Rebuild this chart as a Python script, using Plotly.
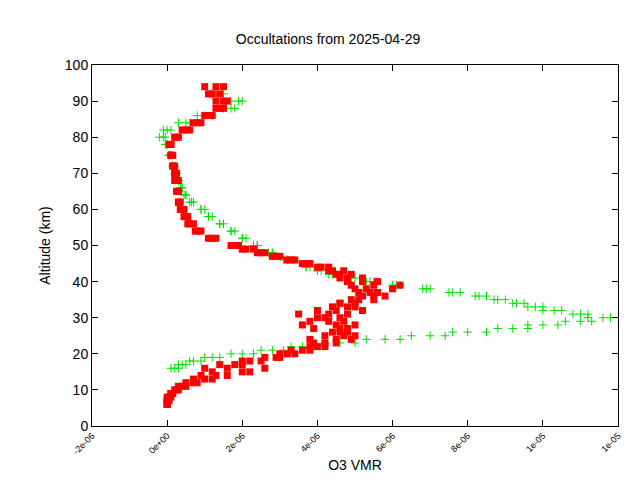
import plotly.graph_objects as go

# Green profiles (altitude km, O3 VMR)
g_alt = [16,17,18,19,20,21,22,23,24,25,26,27,28,29,30,31,32,33,34,35,36,37,38,39,40,41,42,43,44,46,48,50,52,54,56,58,60,62,64,66,68,70,72,75,78,80,82,84,86,88,90,92]
g_v1 = [0.2e-6,0.4e-6,0.7e-6,1.2e-6,2.0e-6,2.8e-6,3.6e-6,4.6e-6,5.8e-6,7.0e-6,8.0e-6,9.2e-6,1.0e-5,1.1e-5,1.18e-5,1.12e-5,1.05e-5,1.0e-5,9.5e-6,9.0e-6,8.5e-6,7.8e-6,7.0e-6,6.2e-6,5.5e-6,5.0e-6,4.5e-6,4.1e-6,3.8e-6,3.2e-6,2.8e-6,2.4e-6,2.1e-6,1.8e-6,1.5e-6,1.2e-6,1.0e-6,0.7e-6,0.5e-6,0.4e-6,0.3e-6,0.25e-6,0.2e-6,0.1e-6,0.0,-0.1e-6,-0.1e-6,0.3e-6,0.8e-6,1.5e-6,2.0e-6,1.5e-6]
g_v2 = [0.1e-6,0.3e-6,0.6e-6,1.0e-6,1.7e-6,2.5e-6,3.3e-6,4.2e-6,5.3e-6,6.5e-6,7.6e-6,8.8e-6,9.6e-6,1.06e-5,1.12e-5,1.08e-5,1.0e-5,9.6e-6,9.2e-6,8.7e-6,8.2e-6,7.5e-6,6.8e-6,6.0e-6,5.3e-6,4.8e-6,4.3e-6,4.0e-6,3.7e-6,3.1e-6,2.7e-6,2.3e-6,2.0e-6,1.7e-6,1.4e-6,1.1e-6,0.9e-6,0.6e-6,0.45e-6,0.35e-6,0.3e-6,0.25e-6,0.15e-6,0.05e-6,-0.05e-6,-0.2e-6,0.0,0.5e-6,1.0e-6,1.7e-6,1.9e-6,1.3e-6]
g_v3 = [0.3e-6,0.5e-6,0.9e-6,1.4e-6,2.3e-6,3.1e-6,3.9e-6,5.0e-6,6.2e-6,7.4e-6,8.5e-6,9.6e-6,1.04e-5,1.13e-5,1.16e-5,1.1e-5,1.03e-5,9.8e-6,9.3e-6,8.8e-6,8.3e-6,7.6e-6,6.9e-6,6.1e-6,5.4e-6,4.9e-6,4.4e-6,4.0e-6,3.7e-6,3.2e-6,2.8e-6,2.4e-6,2.0e-6,1.7e-6,1.4e-6,1.1e-6,0.9e-6,0.65e-6,0.5e-6,0.4e-6,0.3e-6,0.2e-6,0.15e-6,0.05e-6,0.0,-0.05e-6,0.1e-6,0.6e-6,1.2e-6,1.8e-6,1.7e-6,1.2e-6]

# Red profiles
r_alt = [6,7,8,9,10,11,12,13,14,15,16,17,18,19,20,21,22,23,24,25,26,27,28,29,30,31,32,33,34,35,36,37,38,39,40,41,42,43,44,45,46,47,48,49,50,52,54,56,58,60,62,65,68,70,72,75,78,80,82,84,86,88,90,92,94]
r_v1 = [0.0,0.0,0.05e-6,0.1e-6,0.2e-6,0.3e-6,0.5e-6,0.7e-6,0.9e-6,1.2e-6,1.6e-6,2.0e-6,2.5e-6,2.9e-6,3.2e-6,3.6e-6,4.0e-6,4.2e-6,4.5e-6,4.7e-6,4.8e-6,4.6e-6,4.5e-6,4.3e-6,4.2e-6,4.3e-6,4.5e-6,4.8e-6,5.0e-6,5.1e-6,5.2e-6,5.1e-6,5.0e-6,4.9e-6,4.8e-6,4.6e-6,4.5e-6,4.3e-6,4.0e-6,3.6e-6,3.2e-6,2.8e-6,2.5e-6,2.1e-6,1.8e-6,1.2e-6,0.8e-6,0.6e-6,0.5e-6,0.4e-6,0.3e-6,0.3e-6,0.25e-6,0.2e-6,0.15e-6,0.1e-6,0.1e-6,0.3e-6,0.5e-6,0.8e-6,1.0e-6,1.3e-6,1.3e-6,1.2e-6,1.0e-6]
r_v2 = [0.0,0.05e-6,0.1e-6,0.15e-6,0.3e-6,0.5e-6,0.8e-6,1.2e-6,1.6e-6,2.2e-6,2.6e-6,1.8e-6,2.2e-6,3.0e-6,3.4e-6,3.8e-6,4.2e-6,3.9e-6,3.8e-6,4.2e-6,4.4e-6,3.9e-6,3.6e-6,3.8e-6,4.0e-6,3.5e-6,4.0e-6,4.4e-6,4.6e-6,5.5e-6,5.8e-6,5.4e-6,6.0e-6,6.2e-6,5.6e-6,5.2e-6,4.9e-6,4.7e-6,4.3e-6,3.8e-6,3.4e-6,3.0e-6,2.6e-6,2.3e-6,1.9e-6,1.3e-6,0.9e-6,0.7e-6,0.55e-6,0.45e-6,0.35e-6,0.3e-6,0.3e-6,0.25e-6,0.2e-6,0.15e-6,0.1e-6,0.2e-6,0.4e-6,0.7e-6,1.2e-6,1.5e-6,1.6e-6,1.4e-6,1.5e-6]
r_v3 = [0.0,0.0,0.0,0.1e-6,0.25e-6,0.4e-6,0.7e-6,1.0e-6,1.3e-6,2.0e-6,1.0e-6,1.4e-6,2.0e-6,2.6e-6,3.0e-6,3.3e-6,3.8e-6,4.5e-6,4.9e-6,5.0e-6,4.6e-6,4.8e-6,5.0e-6,4.7e-6,4.6e-6,4.8e-6,5.2e-6,5.0e-6,4.6e-6,4.9e-6,5.5e-6,5.6e-6,5.3e-6,5.5e-6,5.2e-6,4.8e-6,4.6e-6,4.4e-6,4.1e-6,3.7e-6,3.3e-6,2.9e-6,2.4e-6,2.0e-6,1.7e-6,1.1e-6,0.75e-6,0.55e-6,0.45e-6,0.35e-6,0.3e-6,0.25e-6,0.2e-6,0.2e-6,0.15e-6,0.1e-6,0.05e-6,0.25e-6,0.6e-6,0.9e-6,1.1e-6,1.4e-6,1.5e-6,1.1e-6,1.3e-6]

x_ticks = [-2e-6, 0, 2e-6, 4e-6, 6e-6, 8e-6, 1e-5, 1.2e-5]
x_labels = ["-2e-06", "0e+00", "2e-06", "4e-06", "6e-06", "8e-06", "1e-05", "1e-05"]

fig = go.Figure()
for v in (g_v1, g_v2, g_v3):
    fig.add_trace(go.Scatter(x=v, y=g_alt, mode="markers", showlegend=False,
        marker=dict(symbol="cross-thin", size=6, line=dict(color="#00e000", width=1), color="#00e000")))
for v in (r_v1, r_v2, r_v3):
    fig.add_trace(go.Scatter(x=v, y=r_alt, mode="markers", showlegend=False,
        marker=dict(symbol="square", size=7, color="#ff0000")))

axis_common = dict(showline=True, linecolor="black", linewidth=1, mirror="ticks", automargin=False,
                   ticks="inside", ticklen=6, tickcolor="black", showgrid=False, zeroline=False)
fig.update_layout(
    width=640, height=480, plot_bgcolor="white", paper_bgcolor="white",
    margin=dict(l=84, r=30, t=57, b=62),
    font=dict(family="Liberation Sans, Arial", color="black"),
    title=dict(text="Occultations from 2025-04-29", x=0.5, xanchor="center", y=0.945, font=dict(size=14)),
    xaxis=dict(range=[-2e-6, 1.2e-5], tickvals=x_ticks, ticktext=x_labels, tickangle=-45,
               tickfont=dict(size=9), title=dict(text="O3 VMR", font=dict(size=14), standoff=4), **axis_common),
    yaxis=dict(range=[0, 100], dtick=10, tickfont=dict(size=14),
               title=dict(text="Altitude (km)", font=dict(size=14), standoff=10), **axis_common),
)
fig.write_html("out.html")
